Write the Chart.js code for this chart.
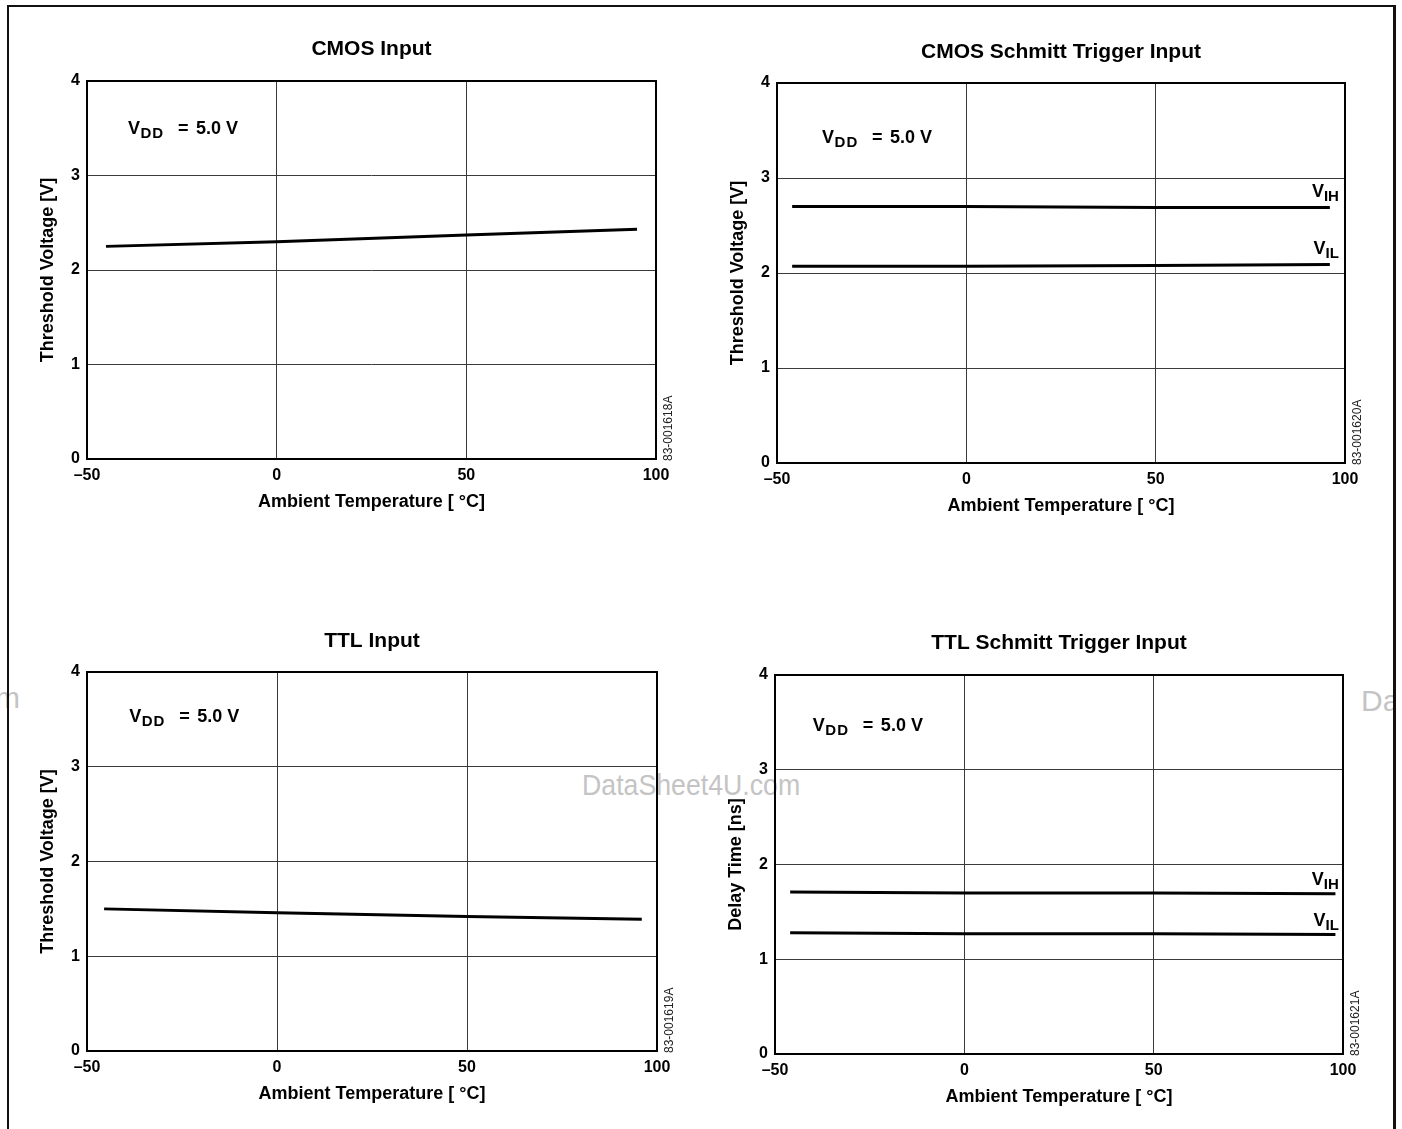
<!DOCTYPE html>
<html lang="en">
<head>
  <meta charset="UTF-8">
  <title>Input Threshold Voltage vs Ambient Temperature</title>
  <style>
    body {
      margin: 0;
      width: 1402px;
      height: 1129px;
      position: relative;
      overflow: hidden;
      background: #fff;
      font-family: "Liberation Sans", Arial, sans-serif;
    }
    .frame {
      position: absolute;
      left: 7px;
      top: 5px;
      width: 1384px;
      height: 1140px;
      border-left: 2px solid #111;
      border-top: 2px solid #111;
      border-right: 3px solid #111;
    }
    .mark {
      position: absolute;
      font-size: 30px;
      line-height: 30px;
      color: #c4c4c4;
      white-space: nowrap;
      overflow: hidden;
    }
    canvas { position: absolute; }
  </style>
</head>
<body>
  <div class="mark" style="left:582px; top:770px; transform:scaleX(0.89); transform-origin:left;">DataSheet4U.com</div>
  <div class="mark" style="left:-5px; top:683px;">m</div>
  <div class="mark" style="left:1361px; top:686px; width:34px;">Dat</div>
  <div class="frame"></div>

  <canvas id="cmos"></canvas>
  <canvas id="cmosSchmitt"></canvas>
  <canvas id="ttl"></canvas>
  <canvas id="ttlSchmitt"></canvas>

  <script src="https://cdn.jsdelivr.net/npm/chart.js"></script>
  <script>
    // values (temperature in °C)
    const cmosTemp = [-45, 0, 50, 95];
    const cmosVth = [2.25, 2.30, 2.37, 2.43];

    const cmosSchmittTemp = [-46, 0, 50, 96];
    const cmosVih = [2.70, 2.70, 2.69, 2.69];
    const cmosVil = [2.07, 2.07, 2.08, 2.09];

    const ttlTemp = [-45.5, 0, 50, 96];
    const ttlVth = [1.50, 1.46, 1.42, 1.39];

    const ttlSchmittTemp = [-46, 0, 50, 98];
    const ttlVih = [1.71, 1.70, 1.70, 1.69];
    const ttlVil = [1.28, 1.27, 1.27, 1.26];

    const tempRange = [-50, 100];
    const voltRange = [0, 4];

    Chart.defaults.font.family = '"Liberation Sans", Arial, sans-serif';
    Chart.defaults.color = '#000';

    // canvas box and plot area are in page pixels
    const panels = [
      { id: 'cmos', box: [10, 10, 680, 540], area: [87, 81, 656, 459], titleY: 49,
        title: 'CMOS Input', yTitle: 'Threshold Voltage [V]', code: '83-001618A',
        series: [[cmosTemp, cmosVth]], vdd: [-39.2, 3.44], labels: [] },
      { id: 'cmosSchmitt', box: [700, 10, 690, 540], area: [777, 83, 1345, 463], titleY: 52,
        title: 'CMOS Schmitt Trigger Input', yTitle: 'Threshold Voltage [V]', code: '83-001620A',
        series: [[cmosSchmittTemp, cmosVih], [cmosSchmittTemp, cmosVil]], vdd: [-38.1, 3.37],
        labels: [{ sub: 'IH', x: 98.4, y: 2.80 }, { sub: 'IL', x: 98.4, y: 2.20 }] },
      { id: 'ttl', box: [10, 590, 680, 530], area: [87, 672, 657, 1051], titleY: 641,
        title: 'TTL Input', yTitle: 'Threshold Voltage [V]', code: '83-001619A',
        series: [[ttlTemp, ttlVth]], vdd: [-38.9, 3.47], labels: [] },
      { id: 'ttlSchmitt', box: [700, 590, 690, 530], area: [775, 675, 1343, 1054], titleY: 643,
        title: 'TTL Schmitt Trigger Input', yTitle: 'Delay Time [ns]', code: '83-001621A',
        series: [[ttlSchmittTemp, ttlVih], [ttlSchmittTemp, ttlVil]], vdd: [-40.0, 3.41],
        labels: [{ sub: 'IH', x: 98.9, y: 1.78 }, { sub: 'IL', x: 98.9, y: 1.35 }] }
    ];

    const FONT = '"Liberation Sans", Arial, sans-serif';

    // frame, V_DD note, curve labels and figure number
    function notesPlugin(p) {
      return {
        id: 'notes',
        afterDraw(chart) {
          const { ctx, chartArea: a, scales: { x, y } } = chart;
          ctx.save();
          ctx.strokeStyle = '#000';
          ctx.lineWidth = 2;
          ctx.strokeRect(a.left, a.top, a.right - a.left, a.bottom - a.top);

          ctx.fillStyle = '#000';
          ctx.textBaseline = 'alphabetic';
          ctx.textAlign = 'left';
          const vx = x.getPixelForValue(p.vdd[0]);
          const vy = y.getPixelForValue(p.vdd[1]);
          ctx.font = 'bold 18px ' + FONT;
          ctx.fillText('V', vx, vy);
          ctx.font = 'bold 15px ' + FONT;
          ctx.letterSpacing = '1px';
          ctx.fillText('DD', vx + 12.5, vy + 4);
          ctx.letterSpacing = '0px';
          ctx.font = 'bold 18px ' + FONT;
          ctx.fillText('=', vx + 50, vy);
          ctx.fillText('5.0 V', vx + 68, vy);

          ctx.textAlign = 'right';
          p.labels.forEach(l => {
            const lx = x.getPixelForValue(l.x);
            const ly = y.getPixelForValue(l.y);
            ctx.font = 'bold 15px ' + FONT;
            const sw = ctx.measureText(l.sub).width;
            ctx.fillText(l.sub, lx, ly + 4);
            ctx.font = 'bold 18px ' + FONT;
            ctx.fillText('V', lx - sw, ly);
          });

          ctx.translate(a.right + 13, a.bottom + 2);
          ctx.rotate(-Math.PI / 2);
          ctx.textAlign = 'left';
          ctx.textBaseline = 'middle';
          ctx.font = '12px ' + FONT;
          ctx.fillStyle = '#222';
          ctx.fillText(p.code, 0, 0);
          ctx.restore();
        }
      };
    }

    function build(p) {
      const [bx, by, bw, bh] = p.box;
      const [l, t, r, b] = p.area;
      const canvas = document.getElementById(p.id);
      canvas.width = bw;
      canvas.height = bh;
      canvas.style.left = bx + 'px';
      canvas.style.top = by + 'px';

      const yAxisW = 67, xAxisH = 60;
      const titleTop = p.titleY - by - 12.6;
      const titleBottom = (t - by) - 25.2 - titleTop;

      return new Chart(canvas, {
        type: 'line',
        data: {
          datasets: p.series.map(([xs, ys]) => ({
            data: xs.map((v, i) => ({ x: v, y: ys[i] })),
            borderColor: '#000',
            borderWidth: 3,
            pointRadius: 0,
            tension: 0,
            fill: false
          }))
        },
        options: {
          responsive: false,
          animation: false,
          events: [],
          layout: {
            autoPadding: false,
            padding: { left: l - bx - yAxisW, right: bx + bw - r, top: 0, bottom: by + bh - b - xAxisH }
          },
          plugins: {
            legend: { display: false },
            tooltip: { enabled: false },
            title: {
              display: true,
              fullSize: false,
              text: p.title,
              color: '#000',
              font: { size: 21, weight: 'bold' },
              padding: { top: titleTop, bottom: titleBottom }
            }
          },
          scales: {
            x: {
              type: 'linear',
              min: tempRange[0],
              max: tempRange[1],
              afterFit: s => { s.height = xAxisH; },
              border: { display: false },
              grid: { color: '#3a3a3a', lineWidth: 1, drawTicks: false },
              ticks: {
                stepSize: 50,
                padding: 7,
                color: '#000',
                font: { size: 16, weight: 'bold' },
                callback: v => (v < 0 ? '\u2013' + (-v) : String(v))
              },
              title: {
                display: true,
                text: 'Ambient Temperature [ °C]',
                color: '#000',
                font: { size: 18, weight: 'bold' },
                padding: { top: 0, bottom: 6 }
              }
            },
            y: {
              min: voltRange[0],
              max: voltRange[1],
              afterFit: s => { s.width = yAxisW; },
              border: { display: false },
              grid: { color: '#3a3a3a', lineWidth: 1, drawTicks: false },
              ticks: {
                stepSize: 1,
                padding: 7,
                color: '#000',
                font: { size: 16, weight: 'bold' }
              },
              title: {
                display: true,
                text: p.yTitle,
                color: '#000',
                font: { size: 18, weight: 'bold' },
                padding: { top: 17, bottom: 0 }
              }
            }
          }
        },
        plugins: [notesPlugin(p)]
      });
    }

    panels.forEach(build);
  </script>
</body>
</html>
